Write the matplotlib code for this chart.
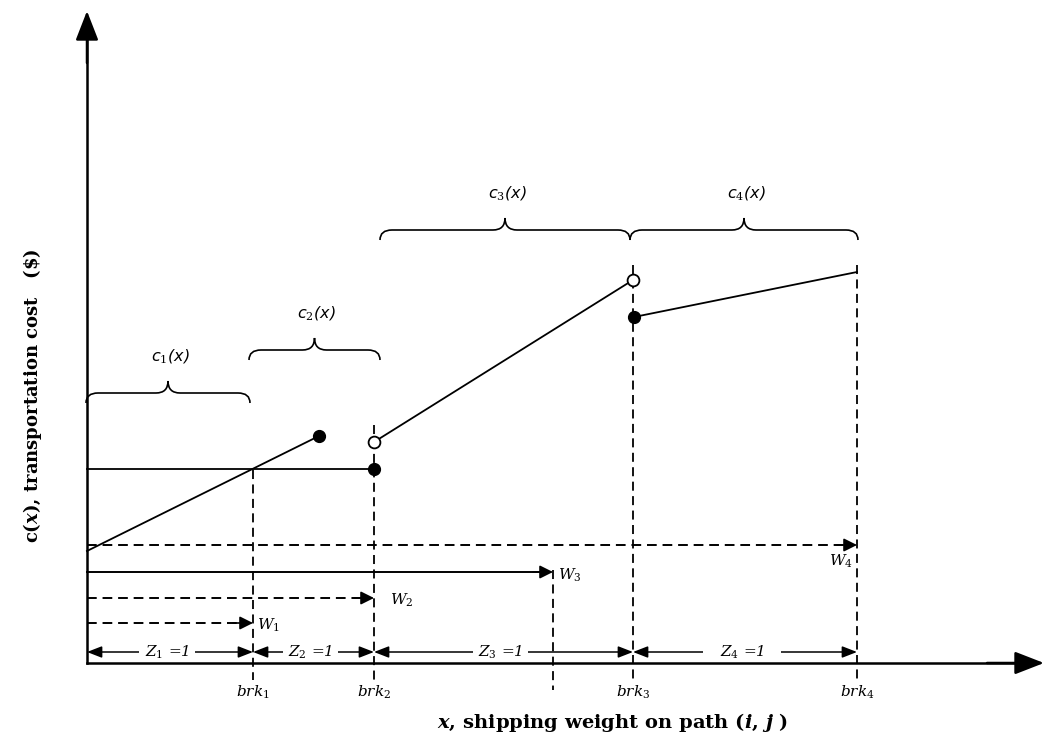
import matplotlib
matplotlib.use("Agg")
import matplotlib.pyplot as plt
from matplotlib.path import Path
from matplotlib.patches import PathPatch, FancyArrowPatch

# --- data (diagram units, origin at the axes corner) ---
brk = [166, 287, 546, 770]          # breakpoints brk1..brk4
w3_end = 466                         # end of W3 arrow
c1_x = [0, 232]; c1_y = [112, 227]
c2_x = [0, 287]; c2_y = [194, 194]
c3_x = [287, 546]; c3_y = [221, 383]
c4_x = [547, 770]; c4_y = [346, 391]
vline_top = [193, 238, 398, 398]     # top of dashed lines at brk1..brk4
w_labels = ["$W_1$", "$W_2$", "$W_3$", "$W_4$"]
w_ends = [brk[0], brk[1], w3_end, brk[3]]
w_y = [40, 65, 91, 118]
z_labels = ["$Z_1$ =1", "$Z_2$ =1", "$Z_3$ =1", "$Z_4$ =1"]
z_y = 11
brk_labels = ["$brk_1$", "$brk_2$", "$brk_3$", "$brk_4$"]
c_labels = ["c$_1$(x)", "c$_2$(x)", "c$_3$(x)", "c$_4$(x)"]
brace_x0 = [-1, 162, 293, 543]
brace_x1 = [163, 293, 543, 771]
brace_base = [260, 303, 423, 423]

fig = plt.figure(figsize=(10.45, 7.55), dpi=100)
ax = fig.add_axes([0, 0, 1, 1])
ax.set_xlim(-87, 958)
ax.set_ylim(-92, 663)
ax.axis("off")

lw = 1.3
dash = (0, (5, 3))
serif_it = dict(fontsize=11, style="italic", family="DejaVu Serif", math_fontfamily="dejavuserif")


def head(x0, y0, x1, y1, style, z=4, w=1.2):
    # solid arrow head only
    ax.add_patch(FancyArrowPatch((x0, y0), (x1, y1), arrowstyle=style, mutation_scale=1,
                                 lw=w, color="black", shrinkA=0, shrinkB=0, zorder=z))


# axes arrows
ax.plot([0, 0], [0, 635], color="black", lw=1.8, zorder=6)
ax.plot([0, 940], [0, 0], color="black", lw=1.8, zorder=6)
head(0, 600, 0, 652, "-|>,head_length=18,head_width=7", z=6, w=1.8)
head(900, 0, 957, 0, "-|>,head_length=18,head_width=7", z=6, w=1.8)

# dashed verticals
for xb, top in zip(brk, vline_top):
    ax.plot([xb, xb], [top, -17], ls=dash, color="black", lw=1.3)
ax.plot([w3_end, w3_end], [93, -27], ls=dash, color="black", lw=1.3)

# cost segments
ax.plot(c1_x, c1_y, color="black", lw=lw)
ax.plot(c2_x, c2_y, color="black", lw=lw)
ax.plot(c3_x, c3_y, color="black", lw=lw)
ax.plot(c4_x, c4_y, color="black", lw=lw)
ax.plot([c1_x[1], c2_x[1], c4_x[0]], [c1_y[1], c2_y[1], c4_y[0]], "o", color="black", ms=8.5, zorder=5)
ax.plot([c3_x[0], c3_x[1]], [c3_y[0], c3_y[1]], "o", mfc="white", mec="black", mew=1.3, ms=8.5, zorder=5)

# W arrows
for i, (lab, xe, yy) in enumerate(zip(w_labels, w_ends, w_y)):
    style = "-" if i == 2 else dash
    ax.plot([0, xe - 6], [yy, yy], ls=style, color="black", lw=1.4)
    head(xe - 20, yy, xe, yy, "-|>,head_length=8,head_width=4")
    if i == 3:
        ax.text(xe - 4, yy - 16, lab, ha="right", va="center", **serif_it)
    elif i == 2:
        ax.text(xe + 5, yy - 3, lab, ha="left", va="center", **serif_it)
    else:
        ax.text(xe + (4 if i == 0 else 16), yy - 2, lab, ha="left", va="center", **serif_it)

# Z arrows
z_edges = [0] + brk
for i, lab in enumerate(z_labels):
    a, b = z_edges[i], z_edges[i + 1]
    ax.add_patch(FancyArrowPatch((a, z_y), (b, z_y), arrowstyle="<|-|>,head_length=9,head_width=3.5",
                                 mutation_scale=1, lw=1.1, color="black", shrinkA=0, shrinkB=0))
    ax.text((a + b) / 2 - 3, z_y, lab, ha="center", va="center", zorder=3,
            bbox=dict(facecolor="white", edgecolor="none", pad=4 if i < 3 else 12), **serif_it)

# brk labels
for xb, lab in zip(brk, brk_labels):
    ax.text(xb, -29, lab, ha="center", va="center", **serif_it)


# braces
def brace(x0, x1, yb, h=10, tip=12, r=12):
    xm = (x0 + x1) / 2
    yh = yb + h
    yt = yh + tip
    verts = [(x0, yb), (x0, yh), (x0 + r, yh), (x0 + r, yh),
             (xm - r, yh), (xm, yh), (xm, yt),
             (xm, yh), (xm + r, yh), (xm + r, yh),
             (x1 - r, yh), (x1, yh), (x1, yb)]
    codes = [Path.MOVETO, Path.CURVE3, Path.CURVE3, Path.LINETO,
             Path.LINETO, Path.CURVE3, Path.CURVE3,
             Path.CURVE3, Path.CURVE3, Path.LINETO,
             Path.LINETO, Path.CURVE3, Path.CURVE3]
    ax.add_patch(PathPatch(Path(verts, codes), fill=False, lw=1.2, color="black"))
    return xm, yt


for x0, x1, yb, lab in zip(brace_x0, brace_x1, brace_base, c_labels):
    xm, yt = brace(x0, x1, yb)
    ax.text(xm + 2, yt + 24, lab, ha="center", va="center", fontsize=11.5, style="italic",
            family="DejaVu Sans", math_fontfamily="dejavuserif")

# axis titles
ax.text(526, -59, r"$\mathbfit{x}$, shipping weight on path ($\mathbfit{i}$, $\mathbfit{j}$ )",
        ha="center", va="center", fontsize=14, fontweight="bold", family="DejaVu Serif",
        math_fontfamily="dejavuserif")
ax.text(-54, 120, r"c($\mathbfit{x}$), transportation cost   (\$)", ha="center", va="bottom",
        rotation=90, fontsize=13, fontweight="bold", family="DejaVu Serif",
        math_fontfamily="dejavuserif")

fig.savefig("out.png", dpi=100)
